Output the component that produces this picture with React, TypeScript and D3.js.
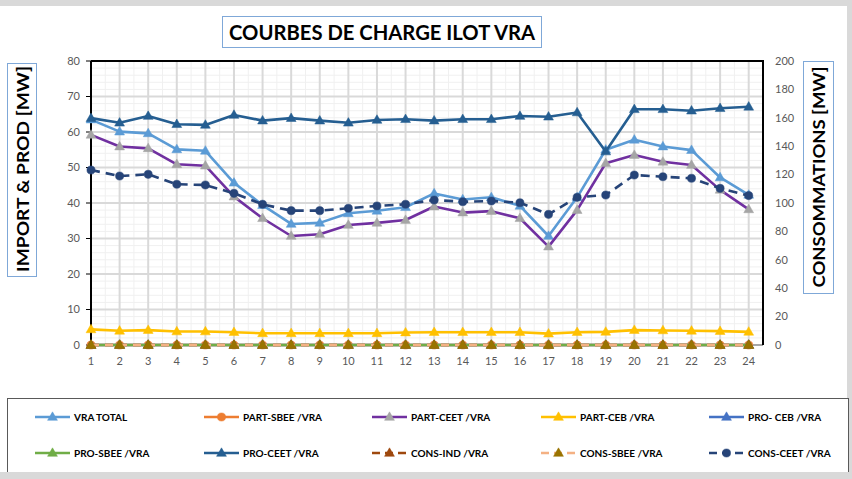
import React from "react";
import * as d3 from "d3";

const HOURS = [1, 2, 3, 4, 5, 6, 7, 8, 9, 10, 11, 12, 13, 14, 15, 16, 17, 18, 19, 20, 21, 22, 23, 24];
const LEFT_TICKS = [0, 10, 20, 30, 40, 50, 60, 70, 80];
const RIGHT_TICKS = [0, 20, 40, 60, 80, 100, 120, 140, 160, 180, 200];

const VRA_TOTAL = [63.5, 60.1, 59.6, 55.1, 54.7, 45.7, 39.4, 34.1, 34.4, 37.1, 37.8, 38.8, 42.7, 41.0, 41.6, 39.2, 30.7, 41.6, 55.0, 57.8, 55.9, 54.9, 47.2, 42.3];
const PART_SBEE = [0, 0, 0, 0, 0, 0, 0, 0, 0, 0, 0, 0, 0, 0, 0, 0, 0, 0, 0, 0, 0, 0, 0, 0];
const PART_CEET = [59.2, 55.9, 55.4, 50.9, 50.5, 41.8, 35.7, 30.7, 31.2, 33.8, 34.4, 35.2, 39.0, 37.3, 37.7, 35.7, 27.7, 38.0, 51.2, 53.5, 51.6, 50.7, 43.7, 38.2];
const PART_CEB = [4.4, 4.0, 4.2, 3.8, 3.8, 3.6, 3.3, 3.3, 3.3, 3.3, 3.3, 3.5, 3.6, 3.6, 3.6, 3.6, 3.2, 3.6, 3.7, 4.2, 4.1, 4.0, 3.9, 3.7];
const PRO_CEB = [0, 0, 0, 0, 0, 0, 0, 0, 0, 0, 0, 0, 0, 0, 0, 0, 0, 0, 0, 0, 0, 0, 0, 0];
const PRO_SBEE = [0, 0, 0, 0, 0, 0, 0, 0, 0, 0, 0, 0, 0, 0, 0, 0, 0, 0, 0, 0, 0, 0, 0, 0];
const PRO_CEET = [63.9, 62.6, 64.5, 62.2, 62.0, 64.8, 63.2, 63.9, 63.2, 62.6, 63.4, 63.6, 63.2, 63.6, 63.6, 64.5, 64.3, 65.5, 54.5, 66.4, 66.4, 66.0, 66.7, 67.1];
const CONS_IND = [0, 0, 0, 0, 0, 0, 0, 0, 0, 0, 0, 0, 0, 0, 0, 0, 0, 0, 0, 0, 0, 0, 0, 0];
const CONS_SBEE = [0, 0, 0, 0, 0, 0, 0, 0, 0, 0, 0, 0, 0, 0, 0, 0, 0, 0, 0, 0, 0, 0, 0, 0];
const CONS_CEET = [123.2, 119.0, 120.2, 113.2, 112.7, 106.8, 99.1, 94.6, 94.6, 96.3, 97.9, 99.1, 102.1, 100.9, 101.4, 100.2, 92.0, 104.0, 105.6, 119.7, 118.5, 117.4, 110.3, 105.2];

type Series = {
  name: string;
  values: number[];
  axis: "L" | "R";
  color: string;
  marker: "tri" | "circle";
  markerColor: string;
  dash?: string;
};

const SERIES: Series[] = [
  { name: "VRA TOTAL", values: VRA_TOTAL, axis: "L", color: "#5b9bd5", marker: "tri", markerColor: "#5b9bd5" },
  { name: "PART-SBEE /VRA", values: PART_SBEE, axis: "L", color: "#ed7d31", marker: "circle", markerColor: "#ed7d31" },
  { name: "PART-CEET /VRA", values: PART_CEET, axis: "L", color: "#7030a0", marker: "tri", markerColor: "#a5a5a5" },
  { name: "PART-CEB /VRA", values: PART_CEB, axis: "L", color: "#ffc000", marker: "tri", markerColor: "#ffc000" },
  { name: "PRO- CEB /VRA", values: PRO_CEB, axis: "L", color: "#4472c4", marker: "tri", markerColor: "#4472c4" },
  { name: "PRO-SBEE /VRA", values: PRO_SBEE, axis: "L", color: "#70ad47", marker: "tri", markerColor: "#70ad47" },
  { name: "PRO-CEET /VRA", values: PRO_CEET, axis: "L", color: "#255e91", marker: "tri", markerColor: "#255e91" },
  { name: "CONS-IND /VRA", values: CONS_IND, axis: "R", color: "#9e480e", marker: "tri", markerColor: "#9e480e", dash: "8,6" },
  { name: "CONS-SBEE  /VRA", values: CONS_SBEE, axis: "R", color: "#f4b183", marker: "tri", markerColor: "#997300", dash: "8,6" },
  { name: "CONS-CEET  /VRA", values: CONS_CEET, axis: "R", color: "#264478", marker: "circle", markerColor: "#264478", dash: "9,6" },
];

const W = 852;
const H = 479;
const PL = 91, PR = 763, PT = 61, PB = 345;

const FONT = "Lato, 'Open Sans', sans-serif";

const x = d3.scaleLinear().domain([1, 24.5]).range([PL, PR]);
const yL = d3.scaleLinear().domain([0, 80]).range([PB, PT]);
const yR = d3.scaleLinear().domain([0, 200]).range([PB, PT]);

const triPath = d3.symbol().type(d3.symbolTriangle).size(42)() as string;
const circPath = d3.symbol().type(d3.symbolCircle).size(52)() as string;

function Marker({ s, cx, cy }: { s: Series; cx: number; cy: number }) {
  return (
    <path
      d={s.marker === "tri" ? triPath : circPath}
      transform={`translate(${cx},${cy + (s.marker === "tri" ? 0.5 : 0)})`}
      fill={s.markerColor}
      stroke={s.markerColor}
      strokeWidth={0.5}
    />
  );
}

export default function App() {
  const minorH = d3.range(0, 81, 2).filter((v) => v % 10 !== 0);
  const minorV = HOURS.map((h) => h - 0.5).filter((v) => v > 1).concat([24.5]);
  const line = (s: Series) => {
    const ys = s.axis === "L" ? yL : yR;
    return d3
      .line<number>()
      .x((_, i) => x(HOURS[i]))
      .y((v) => ys(v))(s.values) as string;
  };
  const legendCols = [35, 204, 372, 541, 709];
  const legendRows = [417, 453];

  return (
    <svg
      width={W}
      height={H}
      style={{ position: "absolute", left: 0, top: 0, fontFamily: FONT }}
    >
      <rect x={0} y={0} width={W} height={H} fill="#d9d9d9" />
      <rect x={0} y={6} width={847} height={466} fill="#ffffff" />

      {/* Title */}
      <rect x={222.5} y={16.5} width={319} height={31} fill="#fff" stroke="#7fa8d8" strokeWidth={1} />
      <text x={382} y={40} textAnchor="middle" fontSize={21} fontWeight={700} fill="#000"
        textLength={306} lengthAdjust="spacingAndGlyphs">
        COURBES DE CHARGE ILOT VRA
      </text>

      {/* Axis titles */}
      <rect x={7.5} y={63.5} width={29} height={213} fill="#fff" stroke="#7fa8d8" strokeWidth={1} />
      <text transform="translate(29,169) rotate(-90)" textAnchor="middle" fontSize={17} fontWeight={700}
        textLength={206} lengthAdjust="spacingAndGlyphs">
        IMPORT &amp; PROD [MW]
      </text>
      <rect x={803.5} y={61.5} width={30} height={232} fill="#fff" stroke="#7fa8d8" strokeWidth={1} />
      <text transform="translate(825,177) rotate(-90)" textAnchor="middle" fontSize={17} fontWeight={700}
        textLength={221} lengthAdjust="spacingAndGlyphs">
        CONSOMMATIONS [MW]
      </text>

      {/* Gridlines */}
      {minorH.map((v) => (
        <line key={"mh" + v} x1={PL} x2={PR} y1={yL(v)} y2={yL(v)} stroke="#f0f0f0" strokeWidth={1} />
      ))}
      {minorV.map((v) => (
        <line key={"mv" + v} x1={x(v)} x2={x(v)} y1={PT} y2={PB} stroke="#f0f0f0" strokeWidth={1} />
      ))}
      {LEFT_TICKS.map((v) => (
        <line key={"gh" + v} x1={PL} x2={PR} y1={yL(v)} y2={yL(v)} stroke="#d9d9d9" strokeWidth={2} />
      ))}
      {HOURS.map((h) => (
        <line key={"gv" + h} x1={x(h)} x2={x(h)} y1={PT} y2={PB} stroke="#d9d9d9" strokeWidth={2} />
      ))}

      {/* Plot border / axes */}
      <line x1={PL} x2={PR} y1={PB} y2={PB} stroke="#a6a6a6" strokeWidth={2} />
      <line x1={PL} x2={PR + 1} y1={PT} y2={PT} stroke="#000" strokeWidth={2} />
      <line x1={PR} x2={PR} y1={PT} y2={PB} stroke="#000" strokeWidth={2} />
      <line x1={PL} x2={PL} y1={PT} y2={PB} stroke="#000" strokeWidth={2} />
      {LEFT_TICKS.map((v) => (
        <line key={"lt" + v} x1={PL - 5} x2={PL} y1={yL(v)} y2={yL(v)} stroke="#000" strokeWidth={1} />
      ))}

      {/* Tick labels */}
      {LEFT_TICKS.map((v) => (
        <text key={"ll" + v} x={80} y={yL(v)} dy="0.35em" textAnchor="end" fontSize={11} fill="#595959">
          {v}
        </text>
      ))}
      {RIGHT_TICKS.map((v) => (
        <text key={"rl" + v} x={775} y={yR(v)} dy="0.35em" textAnchor="start" fontSize={11} fill="#595959">
          {v}
        </text>
      ))}
      {HOURS.map((h) => (
        <text key={"xl" + h} x={x(h)} y={361} dy="0.35em" textAnchor="middle" fontSize={11} fill="#595959">
          {h}
        </text>
      ))}

      {/* Series */}
      {SERIES.map((s) => {
        const ys = s.axis === "L" ? yL : yR;
        return (
          <g key={s.name}>
            <path d={line(s)} fill="none" stroke={s.color} strokeWidth={2.6}
              strokeDasharray={s.dash} strokeLinejoin="round" />
            {s.values.map((v, i) => (
              <Marker key={i} s={s} cx={x(HOURS[i])} cy={ys(v)} />
            ))}
          </g>
        );
      })}

      {/* Legend */}
      <rect x={7.5} y={398.5} width={841} height={80} fill="#fff" stroke="#595959" strokeWidth={1} />
      <rect x={0} y={472} width={W} height={7} fill="#d9d9d9" />
      {SERIES.map((s, i) => {
        const lx = legendCols[i % 5];
        const ly = legendRows[Math.floor(i / 5)];
        return (
          <g key={"lg" + s.name}>
            <line x1={lx} x2={lx + 35} y1={ly} y2={ly} stroke={s.color} strokeWidth={2.6}
              strokeDasharray={s.dash ? "8,5" : undefined} />
            <Marker s={s} cx={lx + 17.5} cy={ly} />
            <text x={lx + 39} y={ly} dy="0.35em" fontSize={10} fontWeight={700} fill="#000">
              {s.name}
            </text>
          </g>
        );
      })}
    </svg>
  );
}
